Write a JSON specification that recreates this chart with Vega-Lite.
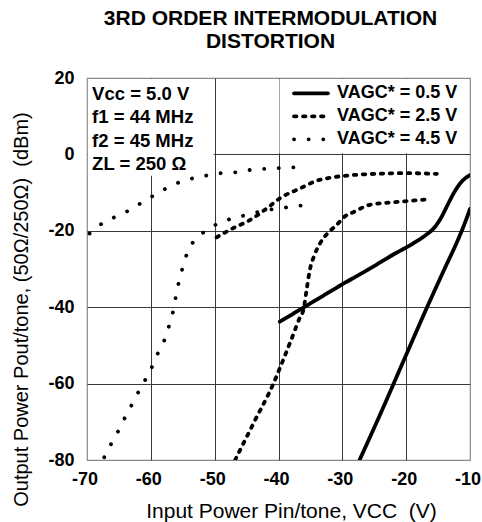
{
  "$schema": "https://vega.github.io/schema/vega-lite/v6.json",
  "width": 383,
  "height": 382,
  "autosize": {"type": "none"},
  "padding": {"left": 87, "top": 78, "right": 12, "bottom": 62},
  "background": "white",
  "config": {"view": {"stroke": "#8a8a8a", "strokeWidth": 1.2}},
  "title": {
    "text": ["3RD ORDER INTERMODULATION", "DISTORTION"],
    "font": "Liberation Sans",
    "fontSize": 21,
    "fontWeight": "bold",
    "color": "black",
    "anchor": "middle",
    "frame": "group",
    "dx": -8,
    "offset": 17.5,
    "lineHeight": 22.5
  },
  "datasets": {
    "boxes": [
      {"x": -69.85, "x2": -50.15, "y": -5.6, "y2": 19.75},
      {"x": -39.85, "x2": -10.15, "y": 0.3, "y2": 19.75}
    ],
    "curves": [
      {"s": "VAGC* = 0.5 V", "c": "a", "x": -39.8, "y": -43.8},
      {"s": "VAGC* = 0.5 V", "c": "a", "x": -37, "y": -41.0},
      {"s": "VAGC* = 0.5 V", "c": "a", "x": -34, "y": -38.0},
      {"s": "VAGC* = 0.5 V", "c": "a", "x": -30, "y": -34.0},
      {"s": "VAGC* = 0.5 V", "c": "a", "x": -26, "y": -30.2},
      {"s": "VAGC* = 0.5 V", "c": "a", "x": -22, "y": -26.2},
      {"s": "VAGC* = 0.5 V", "c": "a", "x": -19, "y": -23.4},
      {"s": "VAGC* = 0.5 V", "c": "a", "x": -17, "y": -21.2},
      {"s": "VAGC* = 0.5 V", "c": "a", "x": -15.5, "y": -19.0},
      {"s": "VAGC* = 0.5 V", "c": "a", "x": -14.5, "y": -16.5},
      {"s": "VAGC* = 0.5 V", "c": "a", "x": -13.5, "y": -13.2},
      {"s": "VAGC* = 0.5 V", "c": "a", "x": -12.5, "y": -10.0},
      {"s": "VAGC* = 0.5 V", "c": "a", "x": -11.5, "y": -7.5},
      {"s": "VAGC* = 0.5 V", "c": "a", "x": -10.7, "y": -6.2},
      {"s": "VAGC* = 0.5 V", "c": "a", "x": -10, "y": -5.4},
      {"s": "VAGC* = 0.5 V", "c": "b", "x": -27.3, "y": -80},
      {"s": "VAGC* = 0.5 V", "c": "b", "x": -24, "y": -67.8},
      {"s": "VAGC* = 0.5 V", "c": "b", "x": -20.4, "y": -54},
      {"s": "VAGC* = 0.5 V", "c": "b", "x": -16.8, "y": -40.3},
      {"s": "VAGC* = 0.5 V", "c": "b", "x": -14, "y": -30},
      {"s": "VAGC* = 0.5 V", "c": "b", "x": -12, "y": -22.8},
      {"s": "VAGC* = 0.5 V", "c": "b", "x": -11, "y": -18.8},
      {"s": "VAGC* = 0.5 V", "c": "b", "x": -10, "y": -14.3},
      {"s": "VAGC* = 2.5 V", "c": "a", "x": -49.7, "y": -21.7},
      {"s": "VAGC* = 2.5 V", "c": "a", "x": -47.1, "y": -19.3},
      {"s": "VAGC* = 2.5 V", "c": "a", "x": -44.5, "y": -17.2},
      {"s": "VAGC* = 2.5 V", "c": "a", "x": -41.8, "y": -14.1},
      {"s": "VAGC* = 2.5 V", "c": "a", "x": -39.8, "y": -11.5},
      {"s": "VAGC* = 2.5 V", "c": "a", "x": -36.6, "y": -8.9},
      {"s": "VAGC* = 2.5 V", "c": "a", "x": -34, "y": -6.9},
      {"s": "VAGC* = 2.5 V", "c": "a", "x": -31.5, "y": -6.0},
      {"s": "VAGC* = 2.5 V", "c": "a", "x": -29, "y": -5.5},
      {"s": "VAGC* = 2.5 V", "c": "a", "x": -25, "y": -5.1},
      {"s": "VAGC* = 2.5 V", "c": "a", "x": -20, "y": -4.9},
      {"s": "VAGC* = 2.5 V", "c": "a", "x": -17, "y": -5.0},
      {"s": "VAGC* = 2.5 V", "c": "a", "x": -15.2, "y": -5.1},
      {"s": "VAGC* = 2.5 V", "c": "b", "x": -46.8, "y": -80},
      {"s": "VAGC* = 2.5 V", "c": "b", "x": -43.8, "y": -70},
      {"s": "VAGC* = 2.5 V", "c": "b", "x": -40.8, "y": -60},
      {"s": "VAGC* = 2.5 V", "c": "b", "x": -39.8, "y": -56},
      {"s": "VAGC* = 2.5 V", "c": "b", "x": -38, "y": -48.5},
      {"s": "VAGC* = 2.5 V", "c": "b", "x": -36.6, "y": -42.5},
      {"s": "VAGC* = 2.5 V", "c": "b", "x": -36.1, "y": -40.7},
      {"s": "VAGC* = 2.5 V", "c": "b", "x": -35.6, "y": -35.5},
      {"s": "VAGC* = 2.5 V", "c": "b", "x": -35.1, "y": -30.3},
      {"s": "VAGC* = 2.5 V", "c": "b", "x": -34.4, "y": -26.5},
      {"s": "VAGC* = 2.5 V", "c": "b", "x": -33.5, "y": -23.3},
      {"s": "VAGC* = 2.5 V", "c": "b", "x": -32.3, "y": -20.6},
      {"s": "VAGC* = 2.5 V", "c": "b", "x": -30.9, "y": -18.5},
      {"s": "VAGC* = 2.5 V", "c": "b", "x": -29.8, "y": -16.5},
      {"s": "VAGC* = 2.5 V", "c": "b", "x": -28, "y": -14.9},
      {"s": "VAGC* = 2.5 V", "c": "b", "x": -25.7, "y": -13.2},
      {"s": "VAGC* = 2.5 V", "c": "b", "x": -22.5, "y": -12.6},
      {"s": "VAGC* = 2.5 V", "c": "b", "x": -19.7, "y": -12.2},
      {"s": "VAGC* = 2.5 V", "c": "b", "x": -17, "y": -11.8},
      {"s": "VAGC* = 4.5 V", "c": "a", "x": -69.6, "y": -20.7},
      {"s": "VAGC* = 4.5 V", "c": "a", "x": -68, "y": -18.5},
      {"s": "VAGC* = 4.5 V", "c": "a", "x": -63.8, "y": -15},
      {"s": "VAGC* = 4.5 V", "c": "a", "x": -59.9, "y": -11.1},
      {"s": "VAGC* = 4.5 V", "c": "a", "x": -56, "y": -7.6},
      {"s": "VAGC* = 4.5 V", "c": "a", "x": -51.5, "y": -5.6},
      {"s": "VAGC* = 4.5 V", "c": "a", "x": -49.2, "y": -4.95},
      {"s": "VAGC* = 4.5 V", "c": "a", "x": -46.8, "y": -4.7},
      {"s": "VAGC* = 4.5 V", "c": "a", "x": -44.6, "y": -4.1},
      {"s": "VAGC* = 4.5 V", "c": "a", "x": -42.4, "y": -3.8},
      {"s": "VAGC* = 4.5 V", "c": "a", "x": -40, "y": -3.6},
      {"s": "VAGC* = 4.5 V", "c": "a", "x": -37.7, "y": -3.4},
      {"s": "VAGC* = 4.5 V", "c": "a", "x": -35.5, "y": -3.4},
      {"s": "VAGC* = 4.5 V", "c": "b", "x": -67.3, "y": -79.3},
      {"s": "VAGC* = 4.5 V", "c": "b", "x": -65.9, "y": -74.8},
      {"s": "VAGC* = 4.5 V", "c": "b", "x": -64.8, "y": -71.5},
      {"s": "VAGC* = 4.5 V", "c": "b", "x": -63.8, "y": -68},
      {"s": "VAGC* = 4.5 V", "c": "b", "x": -62.7, "y": -64.7},
      {"s": "VAGC* = 4.5 V", "c": "b", "x": -61.7, "y": -61.4},
      {"s": "VAGC* = 4.5 V", "c": "b", "x": -60.5, "y": -57.9},
      {"s": "VAGC* = 4.5 V", "c": "b", "x": -59.5, "y": -54.5},
      {"s": "VAGC* = 4.5 V", "c": "b", "x": -58.6, "y": -50.9},
      {"s": "VAGC* = 4.5 V", "c": "b", "x": -57.6, "y": -47.5},
      {"s": "VAGC* = 4.5 V", "c": "b", "x": -57, "y": -44},
      {"s": "VAGC* = 4.5 V", "c": "b", "x": -56.4, "y": -40.3},
      {"s": "VAGC* = 4.5 V", "c": "b", "x": -56, "y": -36.4},
      {"s": "VAGC* = 4.5 V", "c": "b", "x": -55.5, "y": -32.7},
      {"s": "VAGC* = 4.5 V", "c": "b", "x": -54.9, "y": -29},
      {"s": "VAGC* = 4.5 V", "c": "b", "x": -54.2, "y": -25.3},
      {"s": "VAGC* = 4.5 V", "c": "b", "x": -52.9, "y": -22.1},
      {"s": "VAGC* = 4.5 V", "c": "b", "x": -51.2, "y": -19.8},
      {"s": "VAGC* = 4.5 V", "c": "b", "x": -49.2, "y": -17.9},
      {"s": "VAGC* = 4.5 V", "c": "b", "x": -47.1, "y": -16.7},
      {"s": "VAGC* = 4.5 V", "c": "b", "x": -44.6, "y": -15.7},
      {"s": "VAGC* = 4.5 V", "c": "b", "x": -42.5, "y": -14.8},
      {"s": "VAGC* = 4.5 V", "c": "b", "x": -40.2, "y": -14.2},
      {"s": "VAGC* = 4.5 V", "c": "b", "x": -37.9, "y": -13.7},
      {"s": "VAGC* = 4.5 V", "c": "b", "x": -35.6, "y": -13.2}
    ]
  },
  "layer": [
    {
      "data": {"name": "boxes"},
      "mark": {"type": "rect", "fill": "white", "strokeWidth": 0},
      "encoding": {
        "x": {
          "field": "x", "type": "quantitative",
          "scale": {"domain": [-70, -10], "nice": false, "zero": false},
          "axis": {
            "values": [-70, -60, -50, -40, -30, -20, -10],
            "labelExpr": "'' + datum.value",
            "title": "Input Power Pin/tone, VCC\u00a0\u00a0(V)",
            "titleFont": "Liberation Sans", "titleFontSize": 21, "titleFontWeight": "normal", "titleColor": "black",
            "titleX": 204, "titleY": 57, "titleAlign": "center", "titleBaseline": "alphabetic",
            "labelFont": "Liberation Sans", "labelFontSize": 18, "labelFontWeight": "bold", "labelColor": "black",
            "labelPadding": 10, "labelFlush": false, "labelOverlap": false, "labelOffset": -2.5, "labelBound": false,
            "ticks": false, "domain": false,
            "grid": true, "gridColor": "#3a3a3a", "gridWidth": 1,
            "gridOpacity": {"condition": {"test": "datum.value <= -70 || datum.value >= -10", "value": 0}, "value": 1}
          }
        },
        "x2": {"field": "x2"},
        "y": {
          "field": "y", "type": "quantitative",
          "scale": {"domain": [-80, 20], "nice": false, "zero": false},
          "axis": {
            "values": [-80, -60, -40, -20, 0, 20],
            "labelExpr": "'' + datum.value",
            "title": "Output Power Pout/tone, (50Ω/250Ω)\u00a0\u00a0(dBm)",
            "titleFont": "Liberation Sans", "titleFontSize": 20, "titleFontWeight": "normal", "titleColor": "black",
            "titleX": -60, "titleY": 231, "titleAlign": "center", "titleBaseline": "alphabetic", "titleAngle": 270,
            "labelFont": "Liberation Sans", "labelFontSize": 18, "labelFontWeight": "bold", "labelColor": "black",
            "labelPadding": 13, "labelFlush": false, "labelOverlap": false, "ticks": false, "domain": false,
            "grid": true, "gridColor": "#3a3a3a", "gridWidth": 1,
            "gridOpacity": {"condition": {"test": "datum.value <= -80 || datum.value >= 20", "value": 0}, "value": 1}
          }
        },
        "y2": {"field": "y2"}
      }
    },
    {
      "data": {"name": "curves"},
      "mark": {"type": "line", "color": "black", "strokeWidth": 3.8, "strokeCap": "round", "interpolate": "monotone", "clip": true},
      "encoding": {
        "x": {"field": "x", "type": "quantitative"},
        "y": {"field": "y", "type": "quantitative"},
        "strokeDash": {
          "field": "s", "type": "nominal",
          "scale": {"domain": ["VAGC* = 0.5 V", "VAGC* = 2.5 V", "VAGC* = 4.5 V"], "range": [[1, 0], [2.5, 6.5], [0.1, 14.5]]},
          "legend": {
            "title": null, "orient": "none", "legendX": 205, "legendY": 4,
            "padding": 0, "labelFont": "Liberation Sans", "labelFontSize": 18, "labelFontWeight": "bold", "labelColor": "black",
            "labelOffset": 7, "rowPadding": 0, "clipHeight": 22.7, "symbolType": "stroke", "symbolSize": 1156,
            "symbolStrokeWidth": 3.8, "symbolStrokeColor": "black",
            "encode": {"symbols": {"update": {"strokeCap": {"value": "round"}}}}
          }
        },
        "detail": {"field": "c", "type": "nominal"}
      }
    },
    {
      "data": {"values": [{}]},
      "mark": {
        "type": "text",
        "text": ["Vcc = 5.0 V", "f1 = 44 MHz", "f2 = 45 MHz", "ZL = 250 Ω"],
        "font": "Liberation Sans", "fontSize": 18.5, "fontWeight": "bold", "color": "black",
        "align": "left", "baseline": "alphabetic", "lineHeight": 23.3
      },
      "encoding": {
        "x": {"datum": -69.2, "type": "quantitative"},
        "y": {"datum": 14.2, "type": "quantitative"}
      }
    }
  ]
}
